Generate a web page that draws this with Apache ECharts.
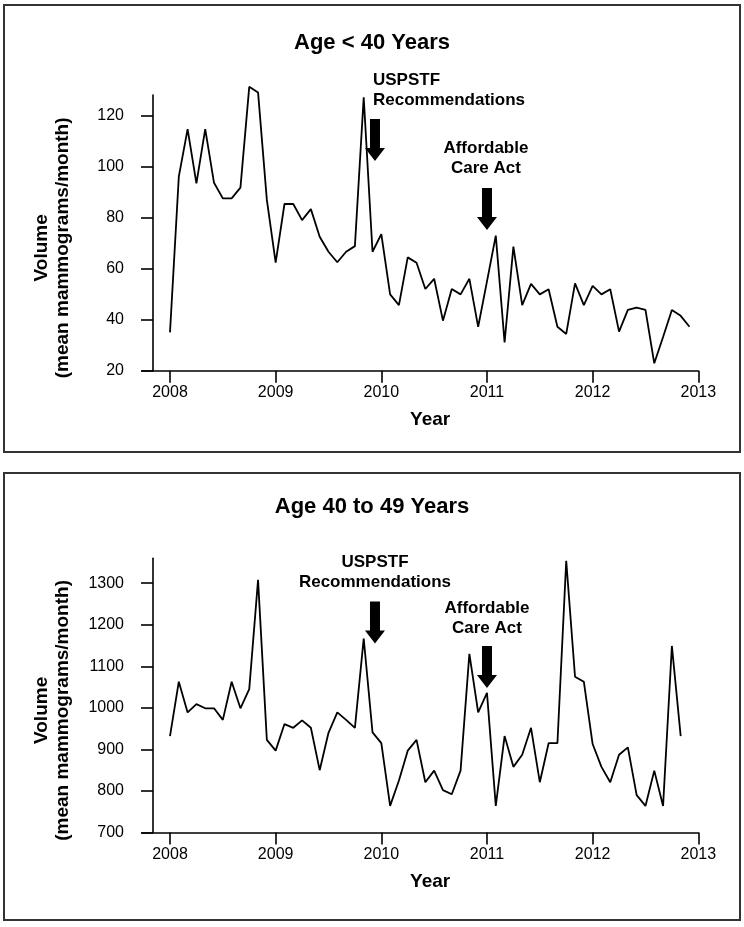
<!DOCTYPE html>
<html><head><meta charset="utf-8">
<script src="https://cdn.jsdelivr.net/npm/echarts@6/dist/echarts.min.js"></script>
<style>html,body{margin:0;padding:0;background:#fff}#c{width:744px;height:927px}</style>
</head><body><div id="c"></div>
<script>
// ---- data ----
const yearTicks = [2008, 2009, 2010, 2011, 2012, 2013];
const under40Ticks = [20, 40, 60, 80, 100, 120];
const age40to49Ticks = [700, 800, 900, 1000, 1100, 1200, 1300];
const startYear = 2008; // monthly series starting Jan 2008
const under40 = [35.0, 96.0, 114.6, 93.4, 114.6, 93.6, 87.5, 87.5, 91.7, 131.2, 129.0, 86.9,
  62.3, 85.3, 85.3, 79.0, 83.3, 72.5, 66.6, 62.5, 66.6, 68.8, 127.1, 66.6,
  73.5, 49.9, 45.7, 64.4, 62.3, 52.0, 56.0, 39.6, 52.0, 49.9, 56.0, 37.2,
  55.0, 72.9, 31.1, 68.6, 45.7, 54.0, 49.9, 51.9, 37.2, 34.4, 54.2, 45.7,
  53.2, 49.9, 51.9, 35.3, 43.8, 44.7, 43.8, 22.9, 33.2, 43.8, 41.5, 37.2];
const age40to49 = [932, 1063, 989, 1009, 999, 999, 971, 1063, 999, 1045, 1308, 923,
  897, 961, 952, 970, 952, 850, 940, 989, 971, 952, 1167, 941,
  915, 764, 825, 897, 923, 821, 849, 802, 792, 849, 1130, 989,
  1036, 764, 932, 858, 887, 952, 821, 915, 915, 1354, 1075, 1063,
  913, 858, 821, 887, 905, 790, 764, 849, 764, 1149, 932];
const eventNames = ['USPSTF\nRecommendations', 'Affordable\nCare Act'];
const eventDates = [2009.94, 2011.0];

// ---- chart ----
const FONT = '"Liberation Sans", Arial, sans-serif';
const ARROW = 'path://M5,0 L15,0 L15,29 L20,29 L10,42 L0,29 L5,29 Z';
const toXY = arr => arr.map((v, i) => [startYear + i / 12, v]);

function xAxisCfg(gi) {
  return {
    type: 'value', gridIndex: gi, min: 2007.735, max: 2013,
    axisLine: { show: true, onZero: false, lineStyle: { color: '#000', width: 1.6 } },
    axisTick: { show: true, length: 12, customValues: yearTicks, lineStyle: { color: '#000', width: 1.6 } },
    axisLabel: { customValues: yearTicks, margin: 14, fontSize: 16, color: '#000', fontFamily: FONT,
      formatter: v => String(Math.round(v)) },
    splitLine: { show: false },
    name: 'Year', nameLocation: 'middle', nameGap: 40,
    nameTextStyle: { fontSize: 19, fontWeight: 'bold', color: '#000', fontFamily: FONT, padding: [0, 0, 0, 20] }
  };
}
function yAxisCfg(gi, min, max, ticks) {
  return {
    type: 'value', gridIndex: gi, min: min, max: max, offset: -11,
    axisLine: { show: true, onZero: false, lineStyle: { color: '#000', width: 1.6 } },
    axisTick: { show: true, length: 12, customValues: ticks, lineStyle: { color: '#000', width: 1.6 } },
    axisLabel: { customValues: ticks, margin: 29, fontSize: 16, color: '#000', fontFamily: FONT,
      formatter: v => String(Math.round(v)) },
    splitLine: { show: false },
    name: 'Volume\n(mean mammograms/month)', nameLocation: 'middle', nameRotate: 90, nameGap: 80,
    nameTextStyle: { fontSize: 19, fontWeight: 'bold', color: '#000', fontFamily: FONT, lineHeight: 21,
      padding: [0, 30, 0, 0] }
  };
}
function arrowItem(x, y) {
  return { coord: [x, y], symbol: ARROW, symbolSize: [20, 42], itemStyle: { color: '#000' }, label: { show: false } };
}
function textItem(x, y, text, align, vAlign) {
  return { coord: [x, y], symbol: 'rect', symbolSize: 1, itemStyle: { color: 'rgba(0,0,0,0)' },
    label: { show: true, position: 'inside', align: align, verticalAlign: vAlign || 'middle', formatter: text,
      fontSize: 17, fontWeight: 'bold', lineHeight: 20, color: '#000', fontFamily: FONT } };
}

const option = {
  animation: false,
  title: [
    { text: 'Age < 40 Years', left: 'center', top: 31, padding: 0,
      textStyle: { fontSize: 22, fontWeight: 'bold', color: '#000', fontFamily: FONT, lineHeight: 24 } },
    { text: 'Age 40 to 49 Years', left: 'center', top: 495, padding: 0,
      textStyle: { fontSize: 22, fontWeight: 'bold', color: '#000', fontFamily: FONT, lineHeight: 24 } }
  ],
  graphic: [
    { type: 'rect', shape: { x: 4, y: 5, width: 736, height: 447 }, style: { fill: 'none', stroke: '#333', lineWidth: 2 }, silent: true },
    { type: 'rect', shape: { x: 4, y: 473, width: 736, height: 447 }, style: { fill: 'none', stroke: '#333', lineWidth: 2 }, silent: true }
  ],
  grid: [
    { left: 142, top: 95, width: 556.3, height: 275.7 },
    { left: 142, top: 558.3, width: 556.3, height: 274.2 }
  ],
  xAxis: [xAxisCfg(0), xAxisCfg(1)],
  yAxis: [yAxisCfg(0, 20, 128, under40Ticks), yAxisCfg(1, 700, 1360, age40to49Ticks)],
  series: [
    { type: 'line', xAxisIndex: 0, yAxisIndex: 0, data: toXY(under40), showSymbol: false, symbol: 'none',
      clip: false, silent: true, lineStyle: { color: '#000', width: 1.8 },
      markPoint: { silent: true, animation: false, data: [
        arrowItem(eventDates[0], 110.4), arrowItem(eventDates[1], 83.3),
        textItem(2009.921, 122.1, eventNames[0], 'left', 'bottom'),
        textItem(2010.99, 103.1, eventNames[1], 'center')
      ] } },
    { type: 'line', xAxisIndex: 1, yAxisIndex: 1, data: toXY(age40to49), showSymbol: false, symbol: 'none',
      clip: false, silent: true, lineStyle: { color: '#000', width: 1.8 },
      markPoint: { silent: true, animation: false, data: [
        arrowItem(eventDates[0], 1205.4), arrowItem(eventDates[1], 1098.3),
        textItem(eventDates[0], 1327, eventNames[0], 'center'),
        textItem(eventDates[1], 1215, eventNames[1], 'center')
      ] } }
  ]
};
const chart = echarts.init(document.getElementById('c'));
chart.setOption(option);
</script>
</body></html>
